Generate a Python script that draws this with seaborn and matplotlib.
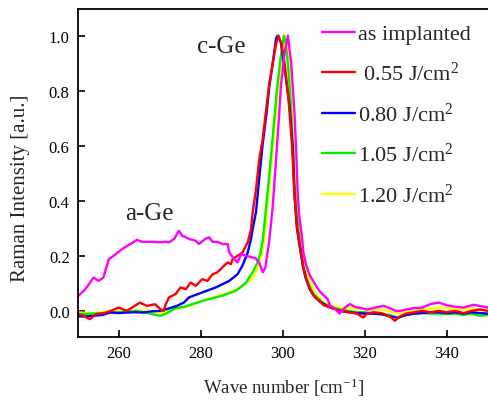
import numpy as np
import pandas as pd
import matplotlib
matplotlib.use("Agg")
import matplotlib.pyplot as plt
import seaborn as sns

# ---------------- data ----------------
labels = ["as implanted", " 0.55 J/cm$^2$", "0.80 J/cm$^2$", "1.05 J/cm$^2$", "1.20 J/cm$^2$"]
colors = ["#ff00ff", "#ff0000", "#0000ff", "#00ee00", "#ffff00"]

x_asimp = [249.7, 251.8, 253.8, 255.0, 256.2, 257.5, 258.7, 260.7, 262.0, 264.4, 265.6, 268.1,
           270.0, 271.4, 272.2, 273.5, 274.6, 275.4, 276.2, 277.1, 278.7, 279.5, 281.2, 282.0,
           282.8, 284.4, 285.2, 286.5, 286.9, 288.1, 288.9, 289.8, 291.0, 292.2, 293.4, 294.2,
           295.1, 295.7, 296.7, 297.5, 298.3, 299.0, 299.5, 300.4, 301.2, 302.0, 302.8, 303.3,
           303.6, 304.0, 304.5, 305.0, 305.7, 306.5, 307.3, 308.1, 309.0, 310.0, 310.9, 311.4,
           312.5, 313.8, 315.0, 316.3, 317.5, 319.0, 320.5, 322.0, 323.5, 324.5, 326.0, 327.5,
           328.6, 330.0, 332.0, 334.0, 336.0, 338.0, 340.0, 342.0, 344.0, 346.5, 348.0, 350.0]
y_asimp = [0.049, 0.079, 0.121, 0.109, 0.121, 0.188, 0.200, 0.224, 0.236, 0.258, 0.251, 0.251,
           0.249, 0.251, 0.249, 0.262, 0.291, 0.273, 0.268, 0.261, 0.255, 0.243, 0.263, 0.267,
           0.251, 0.249, 0.243, 0.243, 0.212, 0.188, 0.176, 0.206, 0.200, 0.196, 0.190, 0.175,
           0.140, 0.158, 0.260, 0.380, 0.550, 0.700, 0.820, 0.940, 1.000, 0.900, 0.720, 0.550,
           0.420, 0.340, 0.285, 0.210, 0.164, 0.130, 0.110, 0.090, 0.070, 0.055, 0.043, 0.020,
           0.010, -0.010, 0.010, 0.025, 0.015, 0.010, 0.005, 0.010, 0.015, 0.018, 0.010, 0.000,
           0.000, 0.005, 0.010, 0.012, 0.025, 0.030, 0.020, 0.015, 0.012, 0.022, 0.018, 0.012]

x_055 = [249.6, 252.9, 254.5, 257.0, 259.9, 261.9, 265.1, 266.8, 268.8, 270.1, 270.9, 271.4,
         272.2, 273.8, 275.0, 276.3, 277.5, 278.7, 280.3, 281.6, 282.8, 284.0, 285.2, 286.5,
         287.3, 287.7, 288.9, 290.1, 291.4, 292.2, 292.6, 293.4, 294.2, 295.0, 295.8, 296.6,
         297.5, 298.3, 298.9, 299.6, 300.4, 301.4, 302.2, 302.7, 303.3, 303.9, 304.9, 305.6,
         306.5, 307.5, 308.9, 310.0, 312.0, 314.0, 316.0, 318.0, 319.6, 320.5, 322.0, 324.0,
         326.0, 327.3, 328.5, 330.0, 332.0, 334.0, 336.0, 338.0, 340.0, 342.0, 344.0, 346.0,
         348.0, 350.0]
y_055 = [-0.006, -0.030, -0.012, -0.006, 0.012, 0.000, 0.030, 0.018, 0.024, 0.006, 0.000, 0.024,
         0.049, 0.061, 0.085, 0.079, 0.103, 0.091, 0.115, 0.109, 0.133, 0.140, 0.158, 0.176,
         0.170, 0.188, 0.200, 0.212, 0.249, 0.297, 0.358, 0.440, 0.550, 0.620, 0.720, 0.820,
         0.900, 0.970, 1.000, 0.970, 0.900, 0.760, 0.600, 0.450, 0.320, 0.260, 0.160, 0.120,
         0.080, 0.055, 0.035, 0.020, 0.010, 0.000, -0.005, -0.010, -0.024, -0.010, -0.005, -0.008,
         -0.020, -0.036, -0.020, -0.010, -0.005, 0.000, -0.005, 0.000, -0.005, 0.000, -0.008, 0.000,
         0.005, 0.000]

x_080 = [250.0, 252.0, 253.7, 256.0, 257.8, 260.0, 261.9, 264.0, 266.0, 268.0, 270.0, 272.0,
         274.1, 275.8, 277.1, 280.3, 283.6, 286.9, 288.9, 290.1, 291.4, 292.2, 292.6, 293.4,
         294.2, 295.0, 296.0, 296.7, 297.5, 298.3, 298.7, 299.5, 300.4, 301.6, 302.4, 302.8,
         303.4, 304.0, 304.9, 305.5, 306.5, 307.5, 308.9, 310.0, 311.0, 312.0, 314.0, 316.0,
         318.0, 320.0, 322.0, 324.0, 326.0, 328.0, 330.0, 332.0, 334.0, 336.0, 338.0, 340.0,
         342.0, 344.0, 346.0, 348.0, 350.0]
y_080 = [-0.020, -0.020, -0.018, -0.015, -0.006, -0.008, -0.006, -0.005, -0.006, -0.002, 0.000, 0.008,
         0.018, 0.030, 0.049, 0.067, 0.085, 0.109, 0.133, 0.164, 0.212, 0.261, 0.297, 0.358,
         0.480, 0.600, 0.720, 0.820, 0.900, 0.990, 1.000, 0.975, 0.880, 0.745, 0.590, 0.420,
         0.300, 0.240, 0.160, 0.120, 0.080, 0.055, 0.035, 0.025, 0.015, 0.010, 0.000, -0.005,
         -0.008, -0.010, -0.010, -0.012, -0.020, -0.025, -0.015, -0.010, -0.008, -0.005, -0.005, -0.008,
         -0.005, -0.010, -0.005, -0.008, -0.010]

x_105 = [250.0, 253.0, 256.0, 258.0, 261.0, 264.3, 267.0, 270.0, 271.5, 273.8, 276.0, 278.0,
         280.3, 282.5, 285.2, 287.0, 288.5, 290.0, 291.0, 292.6, 293.8, 294.5, 295.1, 295.9,
         296.7, 297.3, 297.9, 298.5, 299.1, 299.7, 300.2, 300.7, 301.3, 301.9, 302.4, 302.9,
         303.5, 304.2, 304.9, 305.7, 306.5, 307.5, 308.9, 310.0, 312.0, 314.0, 316.0, 318.0,
         320.0, 322.0, 324.0, 326.0, 328.0, 330.0, 332.0, 334.0, 336.0, 338.0, 340.0, 342.0,
         344.0, 346.0, 348.0, 350.0]
y_105 = [-0.012, -0.010, -0.008, -0.006, -0.005, 0.000, -0.008, -0.018, -0.010, 0.010, 0.015, 0.025,
         0.036, 0.045, 0.055, 0.065, 0.073, 0.090, 0.103, 0.140, 0.176, 0.210, 0.260, 0.380,
         0.500, 0.600, 0.700, 0.800, 0.880, 0.950, 1.000, 0.970, 0.880, 0.750, 0.590, 0.430,
         0.330, 0.240, 0.165, 0.120, 0.090, 0.060, 0.040, 0.025, 0.012, 0.005, 0.000, -0.005,
         -0.005, -0.010, -0.012, -0.015, -0.025, -0.015, -0.010, -0.008, -0.010, -0.010, -0.012, -0.010,
         -0.015, -0.010, -0.018, -0.015]

x_120 = [250.0, 254.0, 257.8, 262.0, 266.0, 268.0, 270.0, 272.0, 274.1, 276.0, 278.0, 280.0,
         283.0, 285.0, 287.0, 289.0, 290.5, 292.0, 293.0, 294.0, 294.8, 295.5, 296.3, 297.0,
         297.6, 298.2, 298.8, 299.4, 300.0, 300.5, 301.0, 301.6, 302.2, 302.7, 303.2, 303.8,
         304.5, 305.2, 306.0, 306.8, 307.8, 309.0, 310.0, 312.0, 314.0, 316.0, 318.0, 320.0,
         322.0, 324.0, 326.0, 328.0, 330.0, 332.0, 334.0, 336.0, 338.0, 340.0, 342.0, 344.0,
         346.0, 348.0, 350.0]
y_120 = [-0.006, -0.008, 0.000, 0.000, 0.003, 0.000, -0.006, 0.000, 0.008, 0.015, 0.022, 0.035,
         0.048, 0.058, 0.068, 0.080, 0.095, 0.110, 0.130, 0.160, 0.200, 0.260, 0.380, 0.500,
         0.600, 0.700, 0.800, 0.880, 0.950, 1.000, 0.970, 0.880, 0.750, 0.590, 0.450, 0.340,
         0.250, 0.180, 0.130, 0.100, 0.070, 0.045, 0.030, 0.018, 0.012, 0.012, 0.008, 0.006,
         0.005, 0.004, 0.000, -0.008, -0.004, 0.000, 0.004, 0.008, 0.012, 0.010, 0.005, 0.006,
         0.010, 0.004, 0.002]

xs = [x_asimp, x_055, x_080, x_105, x_120]
ys = [y_asimp, y_055, y_080, y_105, y_120]

tick_x = [260, 280, 300, 320, 340]
tick_y = [0.0, 0.2, 0.4, 0.6, 0.8, 1.0]

# ---------------- plot ----------------
sns.set_style("white")
plt.rcParams["font.family"] = ["Liberation Serif", "DejaVu Serif"]
plt.rcParams["mathtext.fontset"] = "custom"
plt.rcParams["mathtext.rm"] = "Liberation Serif"
plt.rcParams["mathtext.it"] = "Liberation Serif:italic"

frames = []
for lab, x, y in zip(labels, xs, ys):
    frames.append(pd.DataFrame({"x": x, "y": y, "series": lab}))
df = pd.concat(frames, ignore_index=True)

fig = plt.figure(figsize=(4.88, 4.02), dpi=100)
ax = fig.add_axes([78 / 488, 64 / 402, 410 / 488, 328 / 402])

draw_order = [4, 3, 2, 1, 0]
for i in draw_order:
    sns.lineplot(data=df[df["series"] == labels[i]], x="x", y="y", color=colors[i],
                 lw=1.7, estimator=None, sort=True, ax=ax, label=labels[i])

ax.set_xlim(250, 350)
ax.set_ylim(-0.095, 1.097)
ax.set_xticks(tick_x)
ax.set_yticks(tick_y)
ax.set_yticklabels([f"{v:.1f}" for v in tick_y])
ax.tick_params(direction="in", length=5, width=1.2, labelsize=12, colors="black",
               left=True, bottom=True, pad=6)
for s in ["left", "bottom", "top"]:
    ax.spines[s].set_linewidth(1.3)
    ax.spines[s].set_color("black")
ax.spines["right"].set_visible(False)

ax.set_xlabel("Wave number [cm$^{-1}$]", fontsize=13.5, labelpad=10)
ax.set_ylabel("Raman Intensity [a.u.]", fontsize=15)
ax.yaxis.set_label_coords(-0.118, 0.457)

ax.text(284.9, 0.964, "c-Ge", fontsize=18, ha="center", va="center")
ax.text(267.5, 0.355, "a-Ge", fontsize=18, ha="center", va="center")

handles, labs = ax.get_legend_handles_labels()
order = [labs.index(l) for l in labels]
ax.legend([handles[i] for i in order], [labs[i] for i in order],
          loc="upper left", bbox_to_anchor=(0.595, 0.955), frameon=False,
          fontsize=16, handlelength=1.5, handletextpad=0.1, labelspacing=0.78,
          borderpad=0, borderaxespad=0)

fig.savefig("out.png", dpi=100)
